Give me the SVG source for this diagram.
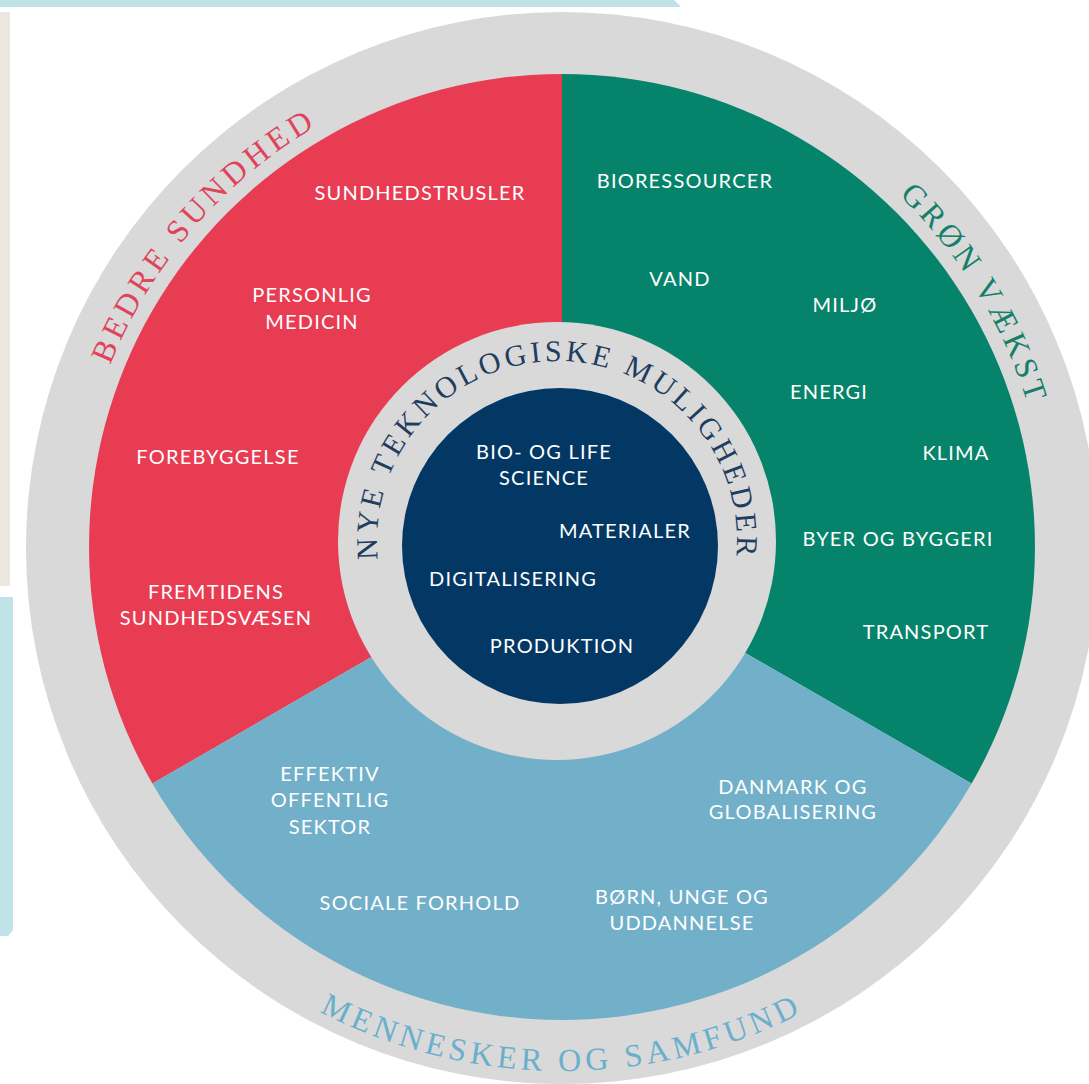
<svg xmlns="http://www.w3.org/2000/svg" width="1089" height="1084" viewBox="0 0 1089 1084">
<style>
.lbl{font-family:Lato,"Open Sans","Liberation Sans",sans-serif;font-size:20px;fill:#ffffff;text-anchor:middle;letter-spacing:1.2px}
.arc{font-family:"Liberation Serif","DejaVu Serif",serif;font-size:32px;letter-spacing:4.5px}
</style>
<defs>
<path id="pRed" d="M108.9,725.5 A487,487 0 0,1 675.7,73.4"/>
<path id="pGreen" d="M549.2,60.2 A487,487 0 0,1 990,779.4"/>
<path id="pBlue" d="M108.2,809 A524,524 0 0,0 1015.8,809"/>
<path id="pCore" d="M401.1,631 A180,180 0 1,1 712.9,631"/>
</defs>
<g id="side-panels">
<path d="M0,0 H674 L681,7 H0 Z" fill="#bfe2e7"/>
<rect x="0" y="12" width="10" height="574" fill="#ebe6e0"/>
<path d="M0,597 H13 V930 L8,936 H0 Z" fill="#c0e3e8"/>
</g>
<g id="outer-ring">
<circle cx="562" cy="548" r="536" fill="#d9d9d9"/>
</g>
<g id="bedre-sundhed">
<path d="M562,547 L562,74 A473,473 0 0,0 152.4,783.5 Z" fill="#e83c53"/>
<text class="arc" fill="#e0435a"><textPath href="#pRed" startOffset="50%" text-anchor="middle">BEDRE SUNDHED</textPath></text>
<text class="lbl" x="420" y="200">SUNDHEDSTRUSLER</text>
<text class="lbl" x="312" y="302">PERSONLIG</text>
<text class="lbl" x="312" y="329">MEDICIN</text>
<text class="lbl" x="218" y="464">FOREBYGGELSE</text>
<text class="lbl" x="216" y="599">FREMTIDENS</text>
<text class="lbl" x="216" y="625">SUNDHEDSVÆSEN</text>
</g>
<g id="groen-vaekst">
<path d="M562,547 L562,74 A473,473 0 0,1 971.6,783.5 Z" fill="#06846b"/>
<text class="arc" fill="#167f6a" style="letter-spacing:4px"><textPath href="#pGreen" startOffset="50%" text-anchor="middle">GRØN VÆKST</textPath></text>
<text class="lbl" x="685" y="188">BIORESSOURCER</text>
<text class="lbl" x="680" y="286">VAND</text>
<text class="lbl" x="845" y="312">MILJØ</text>
<text class="lbl" x="829" y="399">ENERGI</text>
<text class="lbl" x="956" y="460">KLIMA</text>
<text class="lbl" x="898" y="546">BYER OG BYGGERI</text>
<text class="lbl" x="926" y="639">TRANSPORT</text>
</g>
<g id="mennesker-og-samfund">
<path d="M562,547 L152.4,783.5 A473,473 0 0,0 971.6,783.5 Z" fill="#72b0c9"/>
<text class="arc" fill="#6aafcc"><textPath href="#pBlue" startOffset="50%" text-anchor="middle">MENNESKER OG SAMFUND</textPath></text>
<text class="lbl" x="330" y="781">EFFEKTIV</text>
<text class="lbl" x="330" y="807">OFFENTLIG</text>
<text class="lbl" x="330" y="834">SEKTOR</text>
<text class="lbl" x="793" y="794">DANMARK OG</text>
<text class="lbl" x="793" y="819">GLOBALISERING</text>
<text class="lbl" x="420" y="910">SOCIALE FORHOLD</text>
<text class="lbl" x="682" y="904">BØRN, UNGE OG</text>
<text class="lbl" x="682" y="930">UDDANNELSE</text>
</g>
<g id="nye-teknologiske-muligheder">
<circle cx="557" cy="541" r="219" fill="#d9d9d9"/>
<circle cx="560" cy="546" r="158" fill="#043864"/>
<text class="arc" fill="#1f3d5e" style="font-size:30px;letter-spacing:3.6px"><textPath href="#pCore" startOffset="50%" text-anchor="middle">NYE TEKNOLOGISKE MULIGHEDER</textPath></text>
<text class="lbl" x="544" y="459">BIO- OG LIFE</text>
<text class="lbl" x="544" y="485">SCIENCE</text>
<text class="lbl" x="625" y="538">MATERIALER</text>
<text class="lbl" x="513" y="586">DIGITALISERING</text>
<text class="lbl" x="562" y="653">PRODUKTION</text>
</g>
<g id="connectors"/>
</svg>
